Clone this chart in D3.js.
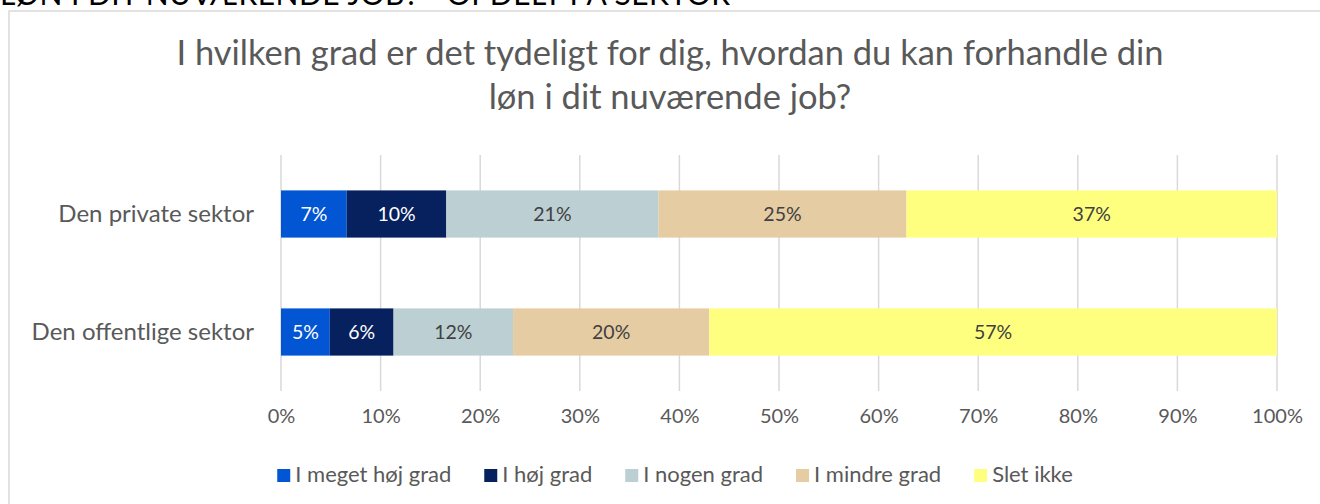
<!DOCTYPE html>
<html>
<head>
<meta charset="utf-8">
<script src="https://cdn.jsdelivr.net/npm/d3@7"></script>
<style>
  html, body { margin: 0; padding: 0; background: #fff; overflow: hidden; }
  svg { display: block; font-family: Lato, "Open Sans", sans-serif; }
</style>
</head>
<body>
<div id="chart"></div>
<script>
// Data (shares of respondents)
var categories = ["Den private sektor", "Den offentlige sektor"];
var seriesNames = ["I meget høj grad", "I høj grad", "I nogen grad", "I mindre grad", "Slet ikke"];
var megetHoj = [0.066, 0.049];
var hoj = [0.100, 0.064];
var nogen = [0.213, 0.120];
var mindre = [0.249, 0.197];
var sletIkke = [0.372, 0.570];
var tickValues = [0, 0.1, 0.2, 0.3, 0.4, 0.5, 0.6, 0.7, 0.8, 0.9, 1.0];

var colors = ["#0256d3", "#07215e", "#bccfd3", "#e6cca3", "#ffff7f"];
var labelColors = ["#ffffff", "#ffffff", "#404040", "#404040", "#404040"];

var svgWidth = 1320, svgHeight = 504;

var svg = d3.select("#chart")
  .append("svg")
  .attr("width", svgWidth)
  .attr("height", svgHeight);

// heading from the page above, cut off by the top edge as in the reference
svg.append("text")
  .attr("x", 0)
  .attr("y", 5)
  .attr("textLength", 730)
  .attr("lengthAdjust", "spacing")
  .style("font-size", "30px")
  .style("fill", "#000")
  .text("LØN I DIT NUVÆRENDE JOB? - OPDELT PÅ SEKTOR");

// chart border
svg.append("rect")
  .attr("x", 9)
  .attr("y", 11)
  .attr("width", 1400)
  .attr("height", 600)
  .attr("fill", "none")
  .attr("stroke", "#d9d9d9")
  .attr("stroke-width", 1.5);

// title
var title = svg.append("text")
  .attr("text-anchor", "middle")
  .style("font-size", "34.5px")
  .style("fill", "#595959");
title.append("tspan").attr("x", 670).attr("y", 65)
  .text("I hvilken grad er det tydeligt for dig, hvordan du kan forhandle din");
title.append("tspan").attr("x", 670).attr("y", 109)
  .text("løn i dit nuværende job?");

// build table for the stack
var table = categories.map(function (c, i) {
  return {
    cat: c,
    s0: megetHoj[i], s1: hoj[i], s2: nogen[i], s3: mindre[i], s4: sletIkke[i]
  };
});
var keys = ["s0", "s1", "s2", "s3", "s4"];
var stacked = d3.stack().keys(keys)(table);

// scales
var x = d3.scaleLinear().domain([0, 1]).range([281, 1277]);
var y = d3.scaleBand().domain(categories).range([155, 391])
  .paddingInner(0.6).paddingOuter(0.3);

// gridlines
svg.append("g")
  .selectAll("line")
  .data(tickValues)
  .enter()
  .append("line")
  .attr("x1", d => x(d))
  .attr("x2", d => x(d))
  .attr("y1", 155)
  .attr("y2", 391)
  .attr("stroke", "#d9d9d9")
  .attr("stroke-width", 1.5);

// x axis tick labels
var xAxis = d3.axisBottom(x)
  .tickValues(tickValues)
  .tickFormat(d3.format(".0%"))
  .tickSize(0)
  .tickPadding(0);

var axisG = svg.append("g")
  .attr("transform", "translate(0, 409)")
  .call(xAxis);
axisG.select(".domain").remove();
axisG.selectAll("text")
  .attr("dy", "0.71em")
  .style("font-family", "Lato, 'Open Sans', sans-serif")
  .style("font-size", "20px")
  .style("fill", "#595959");

// category labels
svg.append("g")
  .selectAll("text")
  .data(categories)
  .enter()
  .append("text")
  .attr("x", 254)
  .attr("y", d => y(d) + y.bandwidth() / 2)
  .attr("dy", "0.35em")
  .attr("text-anchor", "end")
  .style("font-size", "24px")
  .style("fill", "#595959")
  .text(d => d);

// bars
var layers = svg.append("g")
  .selectAll("g")
  .data(stacked)
  .enter()
  .append("g")
  .attr("fill", (d, i) => colors[i]);

layers.selectAll("rect")
  .data(d => d)
  .enter()
  .append("rect")
  .attr("x", d => x(d[0]))
  .attr("y", d => y(d.data.cat))
  .attr("width", d => x(d[1]) - x(d[0]))
  .attr("height", y.bandwidth());

// value labels
var labelLayers = svg.append("g")
  .selectAll("g")
  .data(stacked)
  .enter()
  .append("g")
  .style("fill", (d, i) => labelColors[i]);

labelLayers.selectAll("text")
  .data(d => d)
  .enter()
  .append("text")
  .attr("x", d => (x(d[0]) + x(d[1])) / 2)
  .attr("y", d => y(d.data.cat) + y.bandwidth() / 2)
  .attr("dy", "0.35em")
  .attr("text-anchor", "middle")
  .style("font-size", "19.5px")
  .text(d => Math.round((d[1] - d[0]) * 100) + "%");

// legend
var legend = svg.append("g");
var items = legend.selectAll("g")
  .data(seriesNames)
  .enter()
  .append("g");

items.append("rect")
  .attr("width", 13)
  .attr("height", 13)
  .attr("y", -13)
  .attr("fill", (d, i) => colors[i]);

items.append("text")
  .attr("x", 18)
  .attr("y", 0)
  .attr("dy", "-0.02em")
  .style("font-size", "22px")
  .style("fill", "#595959")
  .text(d => d);

var offset = 0;
items.each(function () {
  var w = d3.select(this).select("text").node().getComputedTextLength();
  d3.select(this).attr("transform", "translate(" + offset + ",0)");
  offset += 18 + w + 33;
});
var legendWidth = offset - 33;
legend.attr("transform", "translate(" + (675 - legendWidth / 2) + ",482)");
</script>
</body>
</html>
